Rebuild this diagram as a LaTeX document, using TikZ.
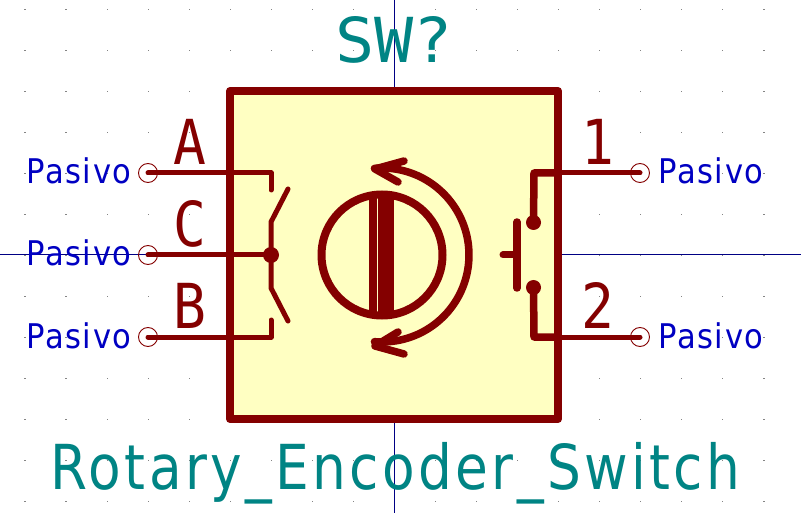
\documentclass[tikz,border=0pt]{standalone}
\usepackage{fontspec}
\setmainfont{DejaVu Sans}
\newfontfamily\monofam{DejaVu Sans Mono}
\newfontfamily\typefam[LetterSpace=5]{DejaVu Sans}
\newfontfamily\valfam[LetterSpace=6.3]{DejaVu Sans}
\definecolor{kired}{HTML}{840000}
\definecolor{kibody}{HTML}{FFFFC2}
\definecolor{kiblue}{HTML}{0000C2}
\definecolor{kiteal}{HTML}{008484}
\definecolor{kinavy}{HTML}{000084}
\definecolor{kigrid}{HTML}{848484}
\tikzset{
  x=1pt,y=-1pt,
  wire/.style={draw=kired,line width=5pt,line cap=round,line join=round},
  thickwire/.style={draw=kired,line width=7.5pt,line cap=round,line join=round},
  endcircle/.style={circle,draw=kired,line width=0.9pt,fill=none,minimum size=19pt,inner sep=0pt},
  junction/.style={circle,fill=kired,inner sep=0pt},
  typelabel/.style={text=kiblue,anchor=base,inner sep=0pt,font=\typefam\fontsize{34}{34}\selectfont,xscale=0.9},
  pinname/.style={text=kired,anchor=base,inner sep=0pt,font=\monofam\fontsize{62}{62}\selectfont,xscale=0.88},
  fieldlabel/.style={text=kiteal,anchor=base,inner sep=0pt,font=\fontsize{62}{62}\selectfont},
}
\begin{document}
\begin{tikzpicture}
\useasboundingbox (0,0) rectangle (801,513);
\fill[white] (0,0) rectangle (801,513);
% grid
\foreach \i in {0,...,18}{\foreach \j in {0,...,12}{
  \fill[kigrid] ({25+41.05*\i-0.6},{9.2+41.0*\j-0.6}) rectangle +(1.2,1.2);
}}
% axes
\draw[kinavy,line width=1pt] (0,255) -- (801,255);
\draw[kinavy,line width=1pt] (394,0) -- (394,513);
% body
\draw[draw=kired,fill=kibody,line width=8pt,line join=round] (230,91) rectangle (558,419);
% pin ends
\node[endcircle] (ea) at (148,173) {};
\node[endcircle] (ec) at (148,255) {};
\node[endcircle] (eb) at (148,337) {};
\node[endcircle] (e1) at (640,173) {};
\node[endcircle] (e2) at (640,337) {};
\coordinate (sa) at (271,173);
\coordinate (sb) at (271,337);
\node[junction,minimum size=16pt] (jc) at (271,255) {};
\coordinate (c1) at (534,173);
\coordinate (c2) at (534,337);
\node[junction,minimum size=15pt] (j1) at (533.5,222.5) {};
\node[junction,minimum size=15pt] (j2) at (533.5,287.5) {};
% left pins and rotary contacts
\draw[wire] (ea.center) -- (sa) -- (271,190);
\draw[wire] (eb.center) -- (sb) -- (271,320);
\draw[wire] (ec.center) -- (jc.center);
\draw[wire] (288,189) -- (271,222) -- (271,288) -- (288,321);
% right pins and push button
\draw[wire] (e1.center) -- (c1);
\draw[wire] (e2.center) -- (c2);
\draw[thickwire] (j1.center) -- (c1) -- (555,173);
\draw[thickwire] (j2.center) -- (c2) -- (555,337);
\draw[thickwire] (517,222) -- (517,288);
\draw[draw=kired,line width=7pt,line cap=round] (503,255) -- (517,255);
% knob
\begin{scope}
\clip (382,255) circle (62);
\fill[kired] (369.3,185) rectangle (377.3,325);
\fill[kired] (378,185) rectangle (394,325);
\end{scope}
\node[circle,draw=kired,line width=8pt,minimum size=121pt,inner sep=0pt] (knob) at (382,255) {};
% rotation arrow
\draw[draw=kired,line width=7.5pt,line cap=round,line join=round]
  plot[smooth,domain=-95:95,samples=40] ({382+87*cos(\x)},{255-87*sin(\x)});
\draw[draw=kired,line width=7.5pt,line cap=round,line join=round] (404,161) -- (375,169) -- (398,182);
\draw[draw=kired,line width=7.5pt,line cap=round,line join=round] (398,332) -- (375,346) -- (404,354);
% labels
\node[typelabel] (ta) at (79,184) {Pasivo};
\node[typelabel] (tc) at (79,266) {Pasivo};
\node[typelabel] (tb) at (79,348) {Pasivo};
\node[typelabel] (t1) at (711,184) {Pasivo};
\node[typelabel] (t2) at (711,348) {Pasivo};
\node[pinname] (na) at (190,165) {A};
\node[pinname] (nc) at (190,247) {C};
\node[pinname] (nb) at (190,328) {B};
\node[pinname] (n1) at (598,165) {1};
\node[pinname] (n2) at (598,328) {2};
\node[fieldlabel,font=\monofam\fontsize{62}{62}\selectfont,xscale=1.05] (ref) at (394,63) {SW?};
\node[fieldlabel,font=\valfam\fontsize{62}{62}\selectfont,xscale=0.86] (val) at (395.5,489) {Rotary\_Encoder\_Switch};
\end{tikzpicture}
\end{document}
